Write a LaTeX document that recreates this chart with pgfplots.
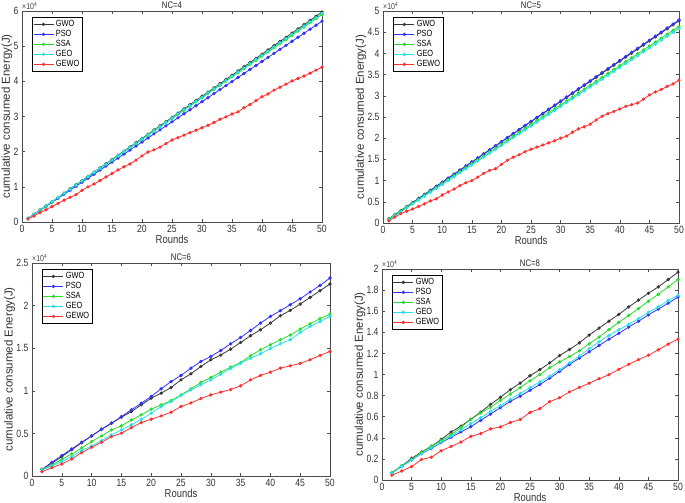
\documentclass[border=0pt]{standalone}
\usepackage{pgfplots}
\pgfplotsset{compat=1.18}
\usepackage{pgfplotstable}
\usepackage{fontspec}
\setmainfont{Liberation Sans}[FakeStretch=0.82]
\newfontfamily\ylabfont{Liberation Sans}

\definecolor{cGWO}{RGB}{55,55,55}
\definecolor{cPSO}{RGB}{50,50,255}
\definecolor{cSSA}{RGB}{40,220,40}
\definecolor{cGEO}{RGB}{40,225,235}
\definecolor{cGEWO}{RGB}{255,50,50}

% NC=4, rounds 1..50
\pgfplotstableread{
r GWO PSO SSA GEO GEWO
1 1000 1000 1000 1000 900
2 2200 2145 2184 2190 1700
3 3400 3290 3368 3380 2700
4 4590 4435 4552 4570 3500
5 5790 5580 5736 5760 4400
6 6990 6725 6920 6950 5300
7 8190 7870 8104 8140 6200
8 9390 9015 9288 9330 7000
9 10580 10160 10472 10520 7800
10 11780 11305 11656 11710 9000
11 12980 12450 12840 12900 10000
12 14180 13595 14024 14090 10800
13 15380 14740 15208 15280 11800
14 16570 15885 16392 16470 12800
15 17770 17030 17576 17660 13800
16 18970 18175 18760 18850 14800
17 20170 19320 19944 20040 15700
18 21370 20465 21128 21230 16500
19 22560 21610 22312 22420 17600
20 23760 22755 23496 23610 18800
21 24960 23900 24680 24800 19900
22 26160 25045 25864 25990 20500
23 27360 26190 27048 27180 21300
24 28550 27335 28232 28370 22300
25 29750 28480 29416 29560 23300
26 30950 29625 30600 30750 24000
27 32150 30770 31784 31940 24700
28 33350 31915 32968 33130 25400
29 34540 33060 34152 34320 26100
30 35740 34205 35336 35510 26800
31 36940 35350 36520 36700 27500
32 38140 36495 37704 37890 28300
33 39340 37640 38888 39080 29200
34 40530 38785 40072 40270 29900
35 41730 39930 41256 41460 30700
36 42930 41075 42440 42650 31300
37 44130 42220 43624 43840 32500
38 45330 43365 44808 45030 33400
39 46520 44510 45992 46220 34500
40 47720 45655 47176 47410 35600
41 48920 46800 48360 48600 36400
42 50120 47945 49544 49790 37500
43 51320 49090 50728 50980 38300
44 52510 50235 51912 52170 39200
45 53710 51380 53096 53360 40100
46 54910 52525 54280 54550 40800
47 56110 53670 55464 55740 41500
48 57310 54815 56648 56930 42300
49 58500 55960 57832 58120 43200
50 59700 57105 59016 59310 44000
}\ncfour

% NC=5, rounds 1..50
\pgfplotstableread{
r GWO PSO SSA GEO GEWO
1 1000 1000 1000 800 500
2 1953 1957 1926 1720 1400
3 2906 2914 2852 2640 2200
4 3859 3871 3778 3560 2800
5 4812 4828 4704 4480 3300
6 5765 5785 5630 5400 3900
7 6718 6742 6556 6320 4500
8 7671 7699 7482 7240 5200
9 8624 8656 8408 8160 5700
10 9577 9613 9334 9080 6600
11 10530 10570 10260 10000 7300
12 11483 11527 11186 10920 8000
13 12436 12484 12112 11840 8800
14 13389 13441 13038 12760 9500
15 14342 14398 13964 13680 10000
16 15295 15355 14890 14600 10800
17 16248 16312 15816 15520 11700
18 17201 17269 16742 16440 12400
19 18154 18226 17668 17360 12800
20 19107 19183 18594 18280 13800
21 20060 20140 19520 19200 14800
22 21013 21097 20446 20120 15500
23 21966 22054 21372 21040 16100
24 22919 23011 22298 21960 16800
25 23872 23968 23224 22880 17400
26 24825 24925 24150 23800 17900
27 25778 25882 25076 24720 18400
28 26731 26839 26002 25640 18900
29 27684 27796 26928 26560 19400
30 28637 28753 27854 27480 20000
31 29590 29710 28780 28400 20500
32 30543 30667 29706 29320 21400
33 31496 31624 30632 30240 22200
34 32449 32581 31558 31160 22700
35 33402 33538 32484 32080 23300
36 34355 34495 33410 33000 24300
37 35308 35452 34336 33920 25200
38 36261 36409 35262 34840 25800
39 37214 37366 36188 35760 26300
40 38167 38323 37114 36680 26900
41 39120 39280 38040 37600 27500
42 40073 40237 38966 38520 27900
43 41026 41194 39892 39440 28300
44 41979 42151 40818 40360 29200
45 42932 43108 41744 41280 30200
46 43885 44065 42670 42200 30900
47 44838 45022 43596 43120 31500
48 45791 45979 44522 44040 32200
49 46744 46936 45448 44960 32800
50 47697 47893 46374 45880 33700
}\ncfive

% NC=6, 30 samples
\pgfplotstableread{
r GWO PSO SSA GEO GEWO
1.667 780 780 780 710 510
3.333 1500 1600 1290 1180 980
5 2270 2400 1960 1690 1410
6.667 3100 3170 2590 2270 2000
8.333 3900 3960 3290 2980 2740
10 4700 4700 4040 3530 3370
11.667 5480 5490 4700 4150 3960
13.333 6190 6200 5410 4820 4620
15 6900 6970 5880 5410 5020
16.667 7560 7760 6580 6000 5680
18.333 8350 8540 7170 6660 6270
20 9130 9330 7840 7370 6660
21.667 9720 10230 8350 8150 7050
23.333 10380 11090 8860 8740 7490
25 11280 11800 9520 9440 8150
26.667 12000 12660 10230 10110 8580
28.333 12850 13440 10970 10700 9090
30 13640 14030 11560 11280 9520
31.667 14190 14730 12190 11950 9840
33.333 14890 15520 12780 12620 10150
35 15670 16260 13320 13240 10580
36.667 16460 17080 14110 13830 11280
38.333 17160 17950 14810 14340 11800
40 17950 18730 15400 14970 12190
41.667 18810 19400 15990 15520 12660
43.333 19440 20100 16540 15990 12930
45 20180 20800 17240 16850 13210
46.667 20960 21600 17870 17560 13640
48.333 21750 22370 18460 18140 14150
50 22530 23240 19000 18730 14620
}\ncsix

% NC=8, 30 samples
\pgfplotstableread{
r GWO PSO SSA GEO GEWO
1.667 700 650 700 650 450
3.333 1350 1300 1350 1300 850
5 2050 1900 1950 1900 1270
6.667 2650 2500 2600 2500 1940
8.333 3200 3000 3200 3050 2160
10 3850 3550 3750 3600 2770
11.667 4550 4050 4300 4150 3180
13.333 5100 4550 5000 4750 3600
15 5770 5050 5750 5350 4140
16.667 6430 5650 6350 5900 4400
18.333 7170 6250 6900 6500 4840
20 7840 6850 7550 7050 5030
21.667 8550 7450 8150 7650 5450
23.333 9180 7950 8750 8200 5730
25 9880 8500 9400 8750 6400
26.667 10460 9050 10000 9300 6760
28.333 11100 9650 10650 9850 7430
30 11800 10300 11200 10450 7800
31.667 12370 10950 11700 11100 8350
33.333 13000 11550 12250 11750 8770
35 13740 12150 12900 12450 9180
36.667 14400 12750 13550 13100 9600
38.333 15050 13350 14250 13700 9980
40 15700 13900 14950 14250 10490
41.667 16400 14500 15600 14750 10970
43.333 17050 15050 16250 15300 11410
45 17700 15650 16950 15900 11830
46.667 18300 16200 17600 16400 12340
48.333 19000 16750 18300 17000 12880
50 19700 17350 19000 17500 13350
}\nceight

\pgfplotsset{
  nc/.style={
    scale only axis,
    anchor=south west,
    xmin=0, xmax=50, xtick={0,5,...,50},
    ymin=0,
    tick align=inside,
    major tick length=3pt,
    axis line style={black!70, line width=0.5pt},
    every tick/.style={black!70, line width=0.5pt},
    tick label style={font=\fontsize{10.5}{11}\selectfont, text=black!80},
    /pgf/number format/assume math mode=true,
    xlabel={Rounds},
    ylabel={\ylabfont cumulative consumed Energy(J)},
    label style={font=\fontsize{11.5}{12}\selectfont, text=black!80},
    xlabel style={yshift=5pt},
    ylabel style={yshift=-5.5pt},
    title style={font=\fontsize{9.5}{10}\selectfont, text=black!85, inner sep=1pt, yshift=-5pt},
    scaled y ticks=base 10:-4,
    ytick scale label code/.code={×10\textsuperscript{4}},
    every y tick scale label/.style={at={(rel axis cs:0,1)}, anchor=south west,
      inner sep=0pt, yshift=1.5pt, font=\fontsize{8.5}{9}\selectfont, text=black!75},
    legend cell align=left,
    legend style={at={(0.033,0.97)}, anchor=north west,
      font=\fontsize{9}{9.5}\selectfont, draw=black, line width=0.4pt,
      inner sep=1pt, row sep=-1.8pt},
    legend image code/.code={\draw[mark repeat=2,mark phase=2,#1]
      plot coordinates {(0pt,0pt) (10pt,0pt) (20pt,0pt)};},
    every axis plot/.append style={line width=0.8pt, mark=*, mark size=1.25pt},
  }
}

\begin{document}
\begin{tikzpicture}
\useasboundingbox (0,0) rectangle (685pt,503pt);

\begin{axis}[nc, at={(22pt,281pt)}, width=300pt, height=211pt,
  ymax=60000, ytick={0,10000,...,60000}, title={NC=4}]
  \addplot[cGWO] table[x=r,y=GWO] {\ncfour};
  \addplot[cPSO] table[x=r,y=PSO] {\ncfour};
  \addplot[cSSA] table[x=r,y=SSA] {\ncfour};
  \addplot[cGEO] table[x=r,y=GEO] {\ncfour};
  \addplot[cGEWO] table[x=r,y=GEWO] {\ncfour};
  \legend{GWO,PSO,SSA,GEO,GEWO}
\end{axis}

\begin{axis}[nc, at={(383pt,280pt)}, width=296pt, height=212pt,
  ymax=50000, ytick={0,5000,...,50000}, title={NC=5}]
  \addplot[cGWO] table[x=r,y=GWO] {\ncfive};
  \addplot[cPSO] table[x=r,y=PSO] {\ncfive};
  \addplot[cSSA] table[x=r,y=SSA] {\ncfive};
  \addplot[cGEO] table[x=r,y=GEO] {\ncfive};
  \addplot[cGEWO] table[x=r,y=GEWO] {\ncfive};
  \legend{GWO,PSO,SSA,GEO,GEWO}
\end{axis}

\begin{axis}[nc, at={(32pt,27pt)}, width=298pt, height=213pt,
  ymax=25000, ytick={0,5000,...,25000}, title={NC=6}]
  \addplot[cGWO] table[x=r,y=GWO] {\ncsix};
  \addplot[cPSO] table[x=r,y=PSO] {\ncsix};
  \addplot[cSSA] table[x=r,y=SSA] {\ncsix};
  \addplot[cGEO] table[x=r,y=GEO] {\ncsix};
  \addplot[cGEWO] table[x=r,y=GEWO] {\ncsix};
  \legend{GWO,PSO,SSA,GEO,GEWO}
\end{axis}

\begin{axis}[nc, at={(382pt,23pt)}, width=296pt, height=211pt,
  ymax=20000, ytick={0,2000,...,20000}, title={NC=8}]
  \addplot[cGWO] table[x=r,y=GWO] {\nceight};
  \addplot[cPSO] table[x=r,y=PSO] {\nceight};
  \addplot[cSSA] table[x=r,y=SSA] {\nceight};
  \addplot[cGEO] table[x=r,y=GEO] {\nceight};
  \addplot[cGEWO] table[x=r,y=GEWO] {\nceight};
  \legend{GWO,PSO,SSA,GEO,GEWO}
\end{axis}
\end{tikzpicture}
\end{document}
